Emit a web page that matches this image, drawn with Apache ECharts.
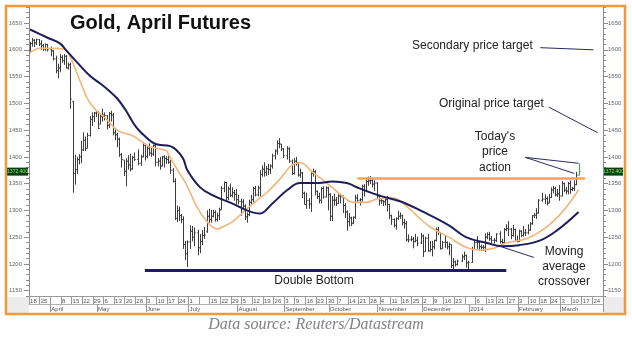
<!DOCTYPE html>
<html>
<head>
<meta charset="utf-8">
<script src="https://cdn.jsdelivr.net/npm/echarts@6/dist/echarts.min.js"></script>
<style>
  html, body { margin: 0; padding: 0; background: #fff; }
  #chart { width: 632px; height: 344px; }
</style>
</head>
<body>
<div id="chart"></div>
<script>
// Daily bars for April gold futures, [open, high, low, close]; null marks an exchange holiday.
const mar2013 = [
  [1598,1615,1595,1612],[1612,1622,1606,1618],[1618,1620,1605,1613],[1613,1621,1609,1619],[1619,1620,1607,1611],
  [1611,1618,1600,1608],[1608,1611,1598,1602],[1602,1612,1598,1610],[1610,1611,1597,1600],null
];
const apr2013 = [
  [1600,1606,1588,1598],[1598,1600,1580,1583],[1583,1589,1556,1561],[1561,1574,1547,1566],[1566,1592,1558,1586],
  [1586,1590,1576,1580],[1580,1592,1572,1588],[1588,1590,1565,1566],[1566,1576,1563,1572],[1572,1576,1490,1508],
  [1503,1505,1333,1369],[1369,1404,1348,1376],[1376,1400,1368,1395],[1395,1405,1386,1400],[1400,1430,1388,1413],
  [1413,1446,1411,1431],[1431,1438,1411,1416],[1416,1445,1416,1440],[1440,1476,1438,1470],[1470,1483,1458,1475],
  [1475,1484,1465,1482],[1482,1486,1474,1483]
];
const may2013 = [
  [1483,1485,1452,1453],[1461,1479,1461,1475],[1475,1490,1466,1478],
  [1478,1483,1468,1477],[1477,1478,1451,1459],[1459,1484,1454,1481],[1481,1486,1466,1478],[1478,1482,1440,1445],
  [1445,1454,1431,1441],[1441,1445,1418,1433],[1433,1436,1400,1404],[1404,1407,1380,1395],[1394,1394,1364,1373],
  [1373,1397,1345,1392],[1392,1403,1376,1385],[1385,1406,1373,1376],[1378,1402,1376,1399],[1399,1408,1392,1395],
  null,[1395,1414,1384,1388],[1388,1404,1383,1400],[1400,1427,1399,1421],[1421,1425,1393,1401]
];
const jun2013 = [
  [1401,1420,1397,1416],[1416,1425,1402,1407],[1407,1418,1400,1405],[1405,1423,1402,1421],[1421,1426,1382,1390],
  [1390,1398,1382,1392],[1392,1400,1376,1383],[1383,1402,1382,1400],[1400,1403,1380,1397],[1397,1401,1387,1395],
  [1395,1402,1387,1390],[1390,1394,1368,1375],[1375,1379,1352,1354],[1354,1360,1282,1285],[1285,1309,1278,1300],
  [1300,1307,1280,1290],[1290,1293,1276,1283],[1283,1289,1228,1236],[1236,1243,1207,1219],[1219,1244,1194,1241]
];
const jul2013 = [
  [1241,1272,1228,1261],[1261,1271,1242,1250],[1250,1268,1233,1258],null,[1258,1264,1216,1230],
  [1230,1256,1220,1242],[1242,1263,1235,1253],[1253,1269,1247,1254],[1260,1300,1258,1289],[1289,1303,1277,1283],
  [1283,1301,1277,1289],[1289,1301,1287,1296],[1296,1300,1279,1283],[1283,1296,1279,1290],[1290,1305,1282,1301],
  [1301,1345,1301,1341],[1341,1354,1334,1352],[1352,1353,1318,1324],[1324,1344,1319,1340],[1340,1350,1325,1328],
  [1328,1343,1324,1333],[1333,1338,1318,1330],[1330,1340,1311,1320]
];
const aug2013 = [
  [1320,1329,1311,1317],[1317,1322,1290,1316],
  [1316,1321,1304,1308],[1308,1311,1282,1288],[1288,1296,1277,1292],[1292,1320,1289,1315],[1315,1329,1310,1320],
  [1320,1344,1314,1341],[1341,1346,1326,1329],[1329,1346,1326,1342],[1342,1375,1326,1367],[1367,1384,1363,1377],
  [1377,1390,1363,1371],[1371,1383,1364,1378],[1378,1387,1366,1376],[1376,1386,1368,1383],[1383,1406,1378,1402],
  [1402,1414,1395,1411],[1411,1431,1404,1425],[1425,1435,1416,1424],[1424,1424,1411,1415],[1415,1416,1398,1402]
];
const sep2013 = [
  null,[1402,1420,1395,1415],[1415,1418,1389,1392],[1392,1395,1366,1369],[1369,1398,1367,1392],
  [1392,1400,1384,1389],[1389,1390,1363,1366],[1366,1378,1361,1370],[1370,1372,1323,1332],[1332,1335,1311,1311],
  [1311,1333,1303,1318],[1318,1323,1303,1312],[1312,1371,1297,1369],[1369,1378,1363,1372],[1372,1375,1328,1336],
  [1336,1337,1321,1326],[1326,1333,1313,1319],[1319,1343,1313,1341],[1341,1345,1322,1325],[1325,1345,1324,1342],
  [1342,1344,1300,1330]
];
const oct2013 = [
  [1330,1332,1280,1289],[1289,1327,1280,1319],[1319,1331,1309,1319],[1319,1325,1308,1313],
  [1313,1330,1312,1327],[1327,1330,1313,1325],[1325,1328,1295,1309],[1309,1313,1286,1297],[1297,1300,1262,1279],
  [1279,1295,1270,1286],[1286,1288,1271,1276],[1276,1289,1274,1287],[1287,1329,1284,1323],[1323,1330,1315,1319],
  [1319,1323,1309,1320],[1320,1348,1316,1345],[1345,1349,1326,1337],[1337,1358,1334,1354],[1354,1363,1346,1355],
  [1355,1364,1349,1356],[1356,1359,1343,1349],[1349,1356,1336,1351],[1351,1353,1323,1327]
];
const nov2013 = [
  [1327,1330,1309,1318],
  [1318,1322,1312,1318],[1318,1319,1308,1316],[1316,1324,1309,1320],[1320,1327,1298,1311],[1311,1312,1284,1290],
  [1290,1292,1273,1283],[1283,1285,1268,1272],[1272,1287,1264,1285],[1285,1299,1282,1289],[1289,1296,1284,1290],
  [1290,1292,1272,1277],[1277,1284,1266,1275],[1275,1280,1242,1245],[1245,1255,1240,1245],[1245,1252,1242,1246],
  [1246,1250,1229,1242],[1242,1256,1240,1244],[1244,1251,1233,1239],null,[1239,1258,1237,1252]
];
const dec2013 = [
  [1252,1255,1213,1223],[1223,1251,1223,1248],[1248,1256,1223,1224],[1224,1243,1223,1227],[1227,1243,1214,1232],
  [1232,1245,1227,1244],[1244,1268,1242,1264],[1264,1269,1254,1259],[1259,1259,1227,1228],[1229,1243,1228,1240],
  [1240,1252,1230,1240],[1240,1242,1227,1232],[1232,1240,1216,1236],[1236,1236,1192,1197],[1197,1211,1189,1204],
  [1204,1206,1195,1199],[1199,1208,1197,1205],null,[1205,1218,1204,1213],[1213,1223,1207,1216],
  [1216,1217,1193,1202],[1202,1206,1185,1203]
];
const jan2014 = [
  null,[1203,1232,1202,1227],[1227,1243,1226,1240],
  [1240,1252,1228,1240],[1240,1241,1225,1232],[1232,1236,1224,1231],[1231,1235,1224,1231],[1231,1257,1222,1250],
  [1250,1259,1246,1255],[1255,1260,1243,1247],[1247,1252,1238,1244],[1244,1248,1238,1244],[1244,1257,1241,1256],
  null,[1256,1261,1238,1242],[1242,1247,1237,1240],[1240,1267,1239,1264],[1264,1274,1261,1266],
  [1266,1280,1252,1265],[1265,1267,1246,1253],[1253,1273,1251,1264],[1264,1266,1242,1244],[1244,1253,1240,1242]
];
const feb2014 = [
  [1242,1264,1241,1261],[1261,1263,1250,1253],[1253,1271,1251,1258],[1258,1265,1252,1258],[1258,1274,1255,1263],
  [1263,1278,1262,1275],[1275,1291,1273,1290],[1290,1295,1286,1291],[1291,1304,1284,1295],[1295,1321,1294,1319],
  null,[1319,1333,1316,1321],[1321,1330,1312,1322],[1322,1326,1309,1313],[1315,1331,1313,1324],
  [1324,1343,1323,1338],[1338,1346,1332,1341],[1341,1344,1326,1329],[1329,1340,1325,1331],[1331,1347,1318,1327]
];
const mar2014 = [
  [1327,1355,1326,1350],[1350,1352,1334,1338],[1338,1344,1330,1336],[1336,1353,1330,1350],[1350,1356,1331,1339],
  [1339,1344,1336,1341],[1341,1356,1336,1348],[1348,1372,1347,1366],[1366,1388,1365,1372.4]
];

// Moving averages as plotted, [trading-day index, price]
const fastAverage = [
  [0,1595],[5,1603],[10,1603],[16,1601],[18,1595],[21,1567],[24,1537],[27,1509],[31,1487],[35,1474],
  [40,1453],[43,1446],[48,1440],[53,1427],[57,1418],[64,1412],[65,1405],[69,1378],[74,1345],[78,1310],
  [83,1280],[88,1265],[91,1270],[95,1278],[102,1303],[108,1323],[111,1332],[117,1356],[123,1384],[127,1389],
  [133,1371],[136,1362],[139,1353],[146,1330],[152,1315],[158,1315],[164,1322],[171,1323],[177,1308],[183,1286],
  [189,1267],[197,1250],[205,1231],[211,1226],[218,1229],[224,1239],[234,1248],[243,1269],[251,1300],[258,1338]
];
const slowAverage = [
  [0,1638],[8,1623],[14,1612],[17,1599],[22,1577],[28,1552],[33,1537],[37,1524],[41,1509],[45,1487],
  [50,1455],[55,1435],[59,1424],[66,1420],[69,1412],[72,1397],[74,1375],[80,1343],[86,1328],[95,1313],
  [102,1300],[108,1294],[114,1313],[121,1338],[127,1351],[136,1351],[142,1354],[149,1351],[155,1341],[164,1328],
  [174,1317],[185,1297],[197,1272],[205,1250],[215,1239],[222,1233],[230,1235],[240,1244],[248,1263],[258,1297]
];

// Axis labels
const weekLabels = ['18','25','','8','15','22','29','6','13','20','28','3','10','17','24','1','','15','22','29',
  '5','12','19','26','3','9','16','23','30','7','14','21','28','4','11','18','25','2','9','16','23','','6','13','21','27',
  '3','10','18','24','3','10','17','24'];
const monthLabels = ['April','May','June','July','August','September','October','November','December','2014','February','March'];

// Reference levels
const resistanceLevel = 1360;
const doubleBottomLevel = 1188;

// Trading calendar: every weekday from 18 Mar 2013 to 28 Mar 2014
const days = [];
for (let t = Date.UTC(2013, 2, 18); t <= Date.UTC(2014, 2, 28); t += 86400000) {
  const d = new Date(t);
  const wd = d.getUTCDay();
  if (wd !== 0 && wd !== 6) days.push(d);
}
const dayKeys = days.map(d => d.toISOString().slice(0, 10));
const monthStart = {};
days.forEach((d, i) => {
  if (i > 0 && d.getUTCMonth() !== days[i - 1].getUTCMonth()) monthStart[i] = Object.keys(monthStart).length;
});

const bars = [].concat(mar2013, apr2013, may2013, jun2013, jul2013, aug2013, sep2013, oct2013,
  nov2013, dec2013, jan2014, feb2014, mar2014);
const barData = [];
bars.forEach((b, i) => { if (b) barData.push([i].concat(b)); });
const lastIndex = barData.length - 1;
const lastClose = barData[lastIndex][4];

const FONT = 'Liberation Sans, Arial, sans-serif';
const NAVY = '#1d1d5c';
const POINTER = '#2a2a62';
const majorTicks = [];
for (let v = 1150; v <= 1650; v += 50) majorTicks.push(v);

function yAxisPair(position) {
  const common = { type: 'value', min: 1140, max: 1680, position: position, splitLine: { show: false } };
  return [
    Object.assign({}, common, {
      interval: 10,
      axisLine: { show: true, lineStyle: { color: '#8a8a8a', width: 1 } },
      axisTick: { show: true, length: 3, lineStyle: { color: '#8a8a8a' } },
      axisLabel: {
        show: true, fontSize: 6, color: '#666', fontFamily: FONT,
        margin: position === 'left' ? 7 : 5,
        formatter: v => (v % 50 === 0 ? String(v) : '')
      }
    }),
    Object.assign({}, common, {
      interval: 10,
      axisLine: { show: false },
      axisTick: { show: true, length: 5, customValues: majorTicks, lineStyle: { color: '#8a8a8a' } },
      axisLabel: { show: false }
    })
  ];
}

const weekTick = (i) => i % 5 === 0;
const monthTick = (i) => monthStart[i] !== undefined;
const pointer = (a, b) => [{ coord: a, lineStyle: { color: POINTER, width: 1, type: 'solid' } }, { coord: b }];

const staticGraphics = [
  { type: 'rect', z: -1, shape: { x: 7, y: 297, width: 22, height: 16 }, style: { fill: '#ececec' } },
  { type: 'rect', z: -1, shape: { x: 603, y: 297, width: 21, height: 16 }, style: { fill: '#ececec' } },
  { type: 'rect', z: 100, shape: { x: 6, y: 6, width: 619, height: 308 }, style: { fill: 'none', stroke: '#f4993a', lineWidth: 2.5 } },
  { type: 'text', z: 50, x: 70, y: 23, style: { text: 'Gold, April Futures', font: 'bold 20px ' + FONT, fill: '#111', verticalAlign: 'middle' } },
  { type: 'text', z: 50, x: 412, y: 46, style: { text: 'Secondary price target', font: '12px ' + FONT, fill: '#222', verticalAlign: 'middle' } },
  { type: 'text', z: 50, x: 439, y: 104, style: { text: 'Original price target', font: '12px ' + FONT, fill: '#222', verticalAlign: 'middle' } },
  { type: 'text', z: 50, x: 495, y: 152, style: { text: "Today's\nprice\naction", font: '12px ' + FONT, fill: '#222', align: 'center', verticalAlign: 'middle', lineHeight: 15.5 } },
  { type: 'text', z: 50, x: 564, y: 267, style: { text: 'Moving\naverage\ncrossover', font: '12px ' + FONT, fill: '#222', align: 'center', verticalAlign: 'middle', lineHeight: 15 } },
  { type: 'text', z: 50, x: 314, y: 281, style: { text: 'Double Bottom', font: '12px ' + FONT, fill: '#222', align: 'center', verticalAlign: 'middle' } },
  { type: 'text', z: 50, x: 316, y: 325, style: { text: 'Data source: Reuters/Datastream', font: 'italic 16px Liberation Serif, Times New Roman, serif', fill: '#80808c', align: 'center', verticalAlign: 'middle' } }
];

const chart = echarts.init(document.getElementById('chart'), null, { renderer: 'canvas' });

chart.setOption({
  animation: false,
  backgroundColor: '#ffffff',
  grid: { left: 29, right: 29, top: 7, bottom: 48, containLabel: false },
  xAxis: [
    {
      type: 'category', data: dayKeys, boundaryGap: true,
      axisLine: { show: true, lineStyle: { color: '#9a9a9a' } },
      axisTick: { show: true, interval: weekTick, length: 8, lineStyle: { color: '#9a9a9a' } },
      axisLabel: {
        show: true, interval: weekTick, align: 'left', margin: 2, fontSize: 6, color: '#555', fontFamily: FONT,
        formatter: (v, i) => weekLabels[i / 5] || ''
      }
    },
    {
      type: 'category', data: dayKeys, boundaryGap: true, position: 'bottom', offset: 8,
      axisLine: { show: true, lineStyle: { color: '#b0b0b0' } },
      axisTick: { show: true, interval: monthTick, length: 8, lineStyle: { color: '#9a9a9a' } },
      axisLabel: {
        show: true, interval: monthTick, align: 'left', margin: 2, fontSize: 6,
        color: '#555', fontFamily: FONT,
        formatter: (v, i) => monthLabels[monthStart[i]] || ''
      }
    }
  ],
  yAxis: yAxisPair('left').concat(yAxisPair('right')),
  series: [
    {
      type: 'custom', name: 'Bars', xAxisIndex: 0, yAxisIndex: 0,
      dimensions: ['day', 'open', 'high', 'low', 'close'],
      encode: { x: 0, y: [1, 2, 3, 4] },
      data: barData, clip: true, z: 2,
      renderItem: (params, api) => {
        const i = api.value(0);
        const pO = api.coord([i, api.value(1)]);
        const pH = api.coord([i, api.value(2)]);
        const pL = api.coord([i, api.value(3)]);
        const pC = api.coord([i, api.value(4)]);
        const x = Math.round(pH[0]) + 0.5;
        const color = params.dataIndex === lastIndex ? '#2fae3c' : '#3c3c3c';
        const st = { stroke: color, lineWidth: 1 };
        return {
          type: 'group',
          children: [
            { type: 'line', shape: { x1: x, y1: pH[1], x2: x, y2: pL[1] }, style: st },
            { type: 'line', shape: { x1: x - 1.2, y1: pO[1], x2: x, y2: pO[1] }, style: st },
            { type: 'line', shape: { x1: x, y1: pC[1], x2: x + 1.2, y2: pC[1] }, style: st }
          ]
        };
      }
    },
    {
      type: 'line', name: 'Fast average', data: fastAverage, smooth: 0.4, showSymbol: false, z: 3,
      lineStyle: { color: '#f2b578', width: 1.6 }
    },
    {
      type: 'line', name: 'Slow average', data: slowAverage, smooth: 0.4, showSymbol: false, z: 4,
      lineStyle: { color: NAVY, width: 2 },
      markLine: {
        silent: true, symbol: ['none', 'none'], animation: false, label: { show: false },
        data: [
          [{ coord: [54, doubleBottomLevel], lineStyle: { color: NAVY, width: 3, type: 'solid' } }, { coord: [224, doubleBottomLevel] }],
          [{ coord: [154, resistanceLevel], lineStyle: { color: '#f5a54a', width: 2.5, type: 'solid' } }, { coord: [261, resistanceLevel] }],
          pointer([240, 1604], [265, 1600]),
          pointer([244, 1493], [267, 1445]),
          pointer([233, 1399], [258, 1388]),
          pointer([233, 1399], [256, 1369]),
          pointer([221, 1233], [237, 1212])
        ]
      }
    }
  ],
  graphic: staticGraphics
});

// Last-price tags on both price scales, placed through the value axis
const tagY = chart.convertToPixel({ yAxisIndex: 0 }, lastClose);
const tagText = lastClose.toFixed(3);
const priceTag = (x, w) => [
  { type: 'rect', z: 60, shape: { x: x, y: tagY - 4, width: w, height: 8 }, style: { fill: '#0b3d12' } },
  { type: 'text', z: 61, x: x + w / 2, y: tagY, style: { text: tagText, font: '5px ' + FONT, fill: '#6cff6c', align: 'center', verticalAlign: 'middle' } }
];
chart.setOption({ graphic: staticGraphics.concat(priceTag(7, 21), priceTag(604, 19)) }, { replaceMerge: ['graphic'] });
</script>
</body>
</html>
